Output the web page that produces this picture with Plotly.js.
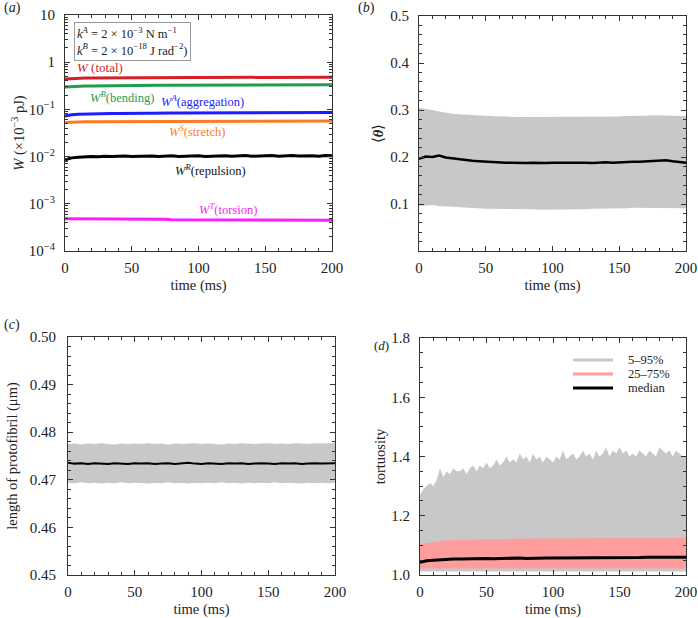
<!DOCTYPE html>
<html>
<head>
<meta charset="utf-8">
<script src="https://cdn.plot.ly/plotly-3.0.1.min.js"></script>
<style>
  html, body { margin: 0; padding: 0; background: #fff; }
  #chart { width: 698px; height: 618px; }
</style>
</head>
<body>
<div id="chart"></div>
<script>
// time axis (ms), every 5 ms
const timeMs = [
  0, 5, 10, 15, 20, 25, 30, 35, 40, 45,
  50, 55, 60, 65, 70, 75, 80, 85, 90, 95,
  100, 105, 110, 115, 120, 125, 130, 135, 140, 145,
  150, 155, 160, 165, 170, 175, 180, 185, 190, 195,
  200,
];
// finer time axis for the spiky upper band of (d)
const timeFine = [
  0, 2.5, 5, 7.5, 10, 12.5, 15, 17.5, 20, 22.5,
  25, 27.5, 30, 32.5, 35, 37.5, 40, 42.5, 45, 47.5,
  50, 52.5, 55, 57.5, 60, 62.5, 65, 67.5, 70, 72.5,
  75, 77.5, 80, 82.5, 85, 87.5, 90, 92.5, 95, 97.5,
  100, 102.5, 105, 107.5, 110, 112.5, 115, 117.5, 120, 122.5,
  125, 127.5, 130, 132.5, 135, 137.5, 140, 142.5, 145, 147.5,
  150, 152.5, 155, 157.5, 160, 162.5, 165, 167.5, 170, 172.5,
  175, 177.5, 180, 182.5, 185, 187.5, 190, 192.5, 195, 197.5,
  200,
];

// (a) energies, x10^-3 pJ
const wTotal = [
  0.44, 0.452, 0.458, 0.461, 0.463, 0.465, 0.466, 0.467, 0.468, 0.468,
  0.469, 0.47, 0.47, 0.471, 0.471, 0.472, 0.472, 0.473, 0.473, 0.474,
  0.474, 0.474, 0.475, 0.475, 0.476, 0.476, 0.476, 0.477, 0.477, 0.477,
  0.478, 0.478, 0.478, 0.479, 0.479, 0.479, 0.48, 0.48, 0.48, 0.481,
  0.481,
];
const wBending = [
  0.298, 0.306, 0.31, 0.313, 0.315, 0.317, 0.318, 0.319, 0.32, 0.321,
  0.322, 0.322, 0.323, 0.324, 0.324, 0.325, 0.325, 0.326, 0.326, 0.327,
  0.327, 0.328, 0.328, 0.328, 0.329, 0.329, 0.33, 0.33, 0.33, 0.331,
  0.331, 0.331, 0.332, 0.332, 0.332, 0.333, 0.333, 0.333, 0.334, 0.334,
  0.334,
];
const wAggregation = [
  0.072, 0.077, 0.079, 0.08, 0.081, 0.081, 0.082, 0.082, 0.082, 0.083,
  0.083, 0.083, 0.083, 0.083, 0.084, 0.084, 0.084, 0.084, 0.084, 0.084,
  0.084, 0.084, 0.085, 0.085, 0.085, 0.085, 0.085, 0.085, 0.085, 0.085,
  0.085, 0.085, 0.085, 0.086, 0.086, 0.086, 0.086, 0.086, 0.086, 0.086,
  0.086,
];
const wStretch = [
  0.053, 0.054, 0.055, 0.055, 0.055, 0.055, 0.056, 0.056, 0.056, 0.056,
  0.056, 0.056, 0.056, 0.056, 0.056, 0.056, 0.056, 0.057, 0.057, 0.057,
  0.057, 0.057, 0.057, 0.057, 0.057, 0.057, 0.057, 0.057, 0.057, 0.057,
  0.057, 0.057, 0.057, 0.057, 0.057, 0.057, 0.057, 0.057, 0.057, 0.057,
  0.057,
];
const wRepulsion = [
  0.0086, 0.0094, 0.0097, 0.0099, 0.0101, 0.0099, 0.0102, 0.01, 0.0101, 0.0103,
  0.01, 0.0102, 0.0101, 0.0103, 0.01, 0.0102, 0.0104, 0.0101, 0.0103, 0.0102,
  0.0104, 0.0101, 0.0103, 0.0102, 0.0104, 0.0102, 0.0103, 0.0105, 0.0102, 0.0104,
  0.0103, 0.0105, 0.0102, 0.0104, 0.0106, 0.0103, 0.0105, 0.0104, 0.0102, 0.0105,
  0.0104,
];
const wTorsion = [
  0.00048, 0.00048, 0.00048, 0.00047, 0.00047, 0.00047, 0.00047, 0.00047, 0.00047, 0.00047,
  0.00047, 0.00047, 0.00047, 0.00047, 0.00047, 0.00047, 0.00046, 0.00046, 0.00046, 0.00046,
  0.00046, 0.00046, 0.00046, 0.00046, 0.00046, 0.00046, 0.00046, 0.00046, 0.00046, 0.00046,
  0.00046, 0.00046, 0.00046, 0.00045, 0.00045, 0.00045, 0.00045, 0.00045, 0.00045, 0.00045,
  0.00045,
];

// (b) mean angle: band and median
const thetaUpper = [
  0.305, 0.303, 0.3, 0.297, 0.294, 0.292, 0.291, 0.29, 0.289, 0.288,
  0.287, 0.287, 0.286, 0.286, 0.285, 0.285, 0.285, 0.285, 0.286, 0.285,
  0.285, 0.285, 0.286, 0.285, 0.285, 0.286, 0.285, 0.286, 0.286, 0.286,
  0.286, 0.287, 0.287, 0.288, 0.288, 0.289, 0.289, 0.288, 0.288, 0.287,
  0.287,
];
const thetaLower = [
  0.096, 0.097, 0.098, 0.096, 0.095, 0.094, 0.093, 0.092, 0.091, 0.091,
  0.09, 0.09, 0.09, 0.089, 0.089, 0.089, 0.089, 0.089, 0.088, 0.088,
  0.088, 0.088, 0.089, 0.089, 0.089, 0.089, 0.09, 0.09, 0.09, 0.091,
  0.091, 0.091, 0.092, 0.092, 0.092, 0.092, 0.092, 0.092, 0.091, 0.091,
  0.091,
];
const thetaMedian = [
  0.196, 0.201, 0.2, 0.203, 0.199, 0.197, 0.195, 0.194, 0.192, 0.191,
  0.19, 0.19, 0.189, 0.188, 0.188, 0.187, 0.187, 0.188, 0.187, 0.187,
  0.188, 0.188, 0.189, 0.188, 0.189, 0.188, 0.187, 0.188, 0.189, 0.188,
  0.189, 0.189, 0.19, 0.19, 0.191, 0.192, 0.192, 0.193, 0.191, 0.189,
  0.188,
];

// (c) protofibril length (um)
const lenUpper = [
  0.4775, 0.4776, 0.4774, 0.4776, 0.4775, 0.4777, 0.4775, 0.4774, 0.4776, 0.4775,
  0.4776, 0.4775, 0.4777, 0.4775, 0.4776, 0.4774, 0.4776, 0.4775, 0.4776, 0.4777,
  0.4775, 0.4776, 0.4775, 0.4774, 0.4776, 0.4775, 0.4777, 0.4776, 0.4775, 0.4776,
  0.4777, 0.4775, 0.4776, 0.4775, 0.4777, 0.4776, 0.4775, 0.4777, 0.4776, 0.4777,
  0.4778,
];
const lenLower = [
  0.4694, 0.4693, 0.4695, 0.4693, 0.4694, 0.4692, 0.4694, 0.4693, 0.4695, 0.4693,
  0.4694, 0.4693, 0.4692, 0.4694, 0.4693, 0.4695, 0.4693, 0.4694, 0.4692, 0.4694,
  0.4693, 0.4694, 0.4693, 0.4695, 0.4693, 0.4694, 0.4692, 0.4694, 0.4693, 0.4694,
  0.4693, 0.4695, 0.4693, 0.4694, 0.4693, 0.4692, 0.4694, 0.4693, 0.4694, 0.4693,
  0.4694,
];
const lenMedian = [
  0.4736, 0.4734, 0.4735, 0.4733, 0.4735, 0.4734, 0.4733, 0.4735, 0.4734, 0.4733,
  0.4735, 0.4734, 0.4735, 0.4733, 0.4734, 0.4735, 0.4733, 0.4734, 0.4736, 0.4734,
  0.4733, 0.4735, 0.4734, 0.4733, 0.4735, 0.4734, 0.4735, 0.4733, 0.4734, 0.4735,
  0.4734, 0.4733, 0.4735, 0.4734, 0.4735, 0.4733, 0.4734, 0.4735, 0.4734, 0.4735,
  0.4735,
];

// (d) tortuosity percentiles
const tort95 = [
  1.27, 1.29, 1.3, 1.31, 1.3, 1.32, 1.36, 1.33, 1.35, 1.34,
  1.36, 1.35, 1.35, 1.36, 1.34, 1.36, 1.37, 1.35, 1.37, 1.36,
  1.38, 1.36, 1.37, 1.39, 1.37, 1.38, 1.4, 1.38, 1.39, 1.38,
  1.41, 1.39, 1.4, 1.38, 1.41, 1.39, 1.4, 1.38, 1.4, 1.39,
  1.38, 1.4, 1.39, 1.42, 1.39, 1.4, 1.41, 1.39, 1.4, 1.42,
  1.4, 1.41, 1.39, 1.42, 1.4, 1.41, 1.43, 1.4, 1.42, 1.41,
  1.43, 1.41, 1.42, 1.4, 1.41, 1.4, 1.42, 1.41, 1.4, 1.42,
  1.41, 1.4, 1.43, 1.42, 1.41, 1.42, 1.4, 1.42, 1.41, 1.4,
  1.4,
];
const tort5 = [
  1.012, 1.012, 1.012, 1.012, 1.012, 1.012, 1.012, 1.012, 1.012, 1.012,
  1.012, 1.012, 1.012, 1.012, 1.012, 1.012, 1.012, 1.012, 1.012, 1.012,
  1.012, 1.012, 1.012, 1.012, 1.012, 1.012, 1.012, 1.012, 1.012, 1.012,
  1.012, 1.012, 1.012, 1.012, 1.012, 1.012, 1.012, 1.012, 1.012, 1.012,
  1.012,
];
const tort75 = [
  1.104, 1.108, 1.112, 1.115, 1.117, 1.118, 1.119, 1.12, 1.12, 1.121,
  1.121, 1.121, 1.122, 1.122, 1.122, 1.122, 1.123, 1.122, 1.123, 1.123,
  1.123, 1.123, 1.123, 1.124, 1.123, 1.124, 1.124, 1.124, 1.124, 1.124,
  1.124, 1.124, 1.125, 1.124, 1.125, 1.125, 1.125, 1.125, 1.125, 1.125,
  1.125,
];
const tort25 = [
  1.022, 1.022, 1.022, 1.022, 1.022, 1.022, 1.022, 1.022, 1.022, 1.022,
  1.022, 1.022, 1.022, 1.022, 1.022, 1.022, 1.022, 1.022, 1.022, 1.022,
  1.022, 1.022, 1.022, 1.022, 1.022, 1.022, 1.022, 1.022, 1.022, 1.022,
  1.022, 1.022, 1.022, 1.022, 1.022, 1.022, 1.022, 1.022, 1.022, 1.022,
  1.022,
];
const tortMedian = [
  1.043, 1.048, 1.05, 1.052, 1.053, 1.054, 1.054, 1.055, 1.055, 1.055,
  1.056, 1.055, 1.056, 1.056, 1.056, 1.057, 1.056, 1.057, 1.057, 1.057,
  1.057, 1.057, 1.058, 1.057, 1.058, 1.058, 1.058, 1.058, 1.059, 1.058,
  1.059, 1.059, 1.059, 1.059, 1.06, 1.059, 1.06, 1.06, 1.06, 1.06,
  1.06,
];

const logTicks = [1e-4, 1e-3, 1e-2, 1e-1, 1, 10];
const logTickText = ["10<sup>−4</sup>", "10<sup>−3</sup>", "10<sup>−2</sup>", "10<sup>−1</sup>", "1", "10"];
const legendNames = ["5–95%", "25–75%", "median"];

const serif = "'Liberation Serif', 'Times New Roman', serif";
const ink = "#222";
const axisInk = "#333";
const bandGray = "#c8c8c8";
const bandPink = "#ff9c9c";
const legendColors = [bandGray, bandPink, "#000"];

const W = 698, H = 618;
const px = (x) => x / W;
const py = (y) => 1 - y / H;

function axis(extra) {
  return {
    showline: true,
    linecolor: axisInk,
    linewidth: 1,
    mirror: "ticks",
    ticks: "inside",
    ticklen: 5,
    tickcolor: axisInk,
    showgrid: false,
    zeroline: false,
    fixedrange: true,
    tickfont: { family: serif, size: 15, color: ink },
    ...extra,
  };
}

const minorTicks = (extra) => ({ ticks: "inside", ticklen: 3, tickcolor: axisInk, ...extra });
const yTitle = (text, standoff) => ({ text, standoff, font: { family: serif, size: 14.5, color: ink } });

function timeAxis(domain, anchor) {
  return axis({
    domain,
    anchor,
    range: [0, 200],
    tick0: 0,
    dtick: 50,
    ticklabelstandoff: 3,
    minor: minorTicks({ dtick: 10, tick0: 0 }),
    title: { text: "time (ms)", standoff: 4, font: { family: serif, size: 14.5, color: ink } },
  });
}

const line = (x, y, xa, ya, color, width) => ({
  x, y, xaxis: xa, yaxis: ya, type: "scatter", mode: "lines",
  line: { color, width }, showlegend: false, hoverinfo: "skip",
});

const band = (x, y, xa, ya, color, fill) => ({
  x, y, xaxis: xa, yaxis: ya, type: "scatter", mode: "lines",
  line: { width: 0, color }, fill, fillcolor: color,
  showlegend: false, hoverinfo: "skip",
});

const traces = [
  // (a)
  line(timeMs, wTotal, "x", "y", "#d41f26", 3),
  line(timeMs, wBending, "x", "y", "#1f9e50", 3),
  line(timeMs, wAggregation, "x", "y", "#1c1cff", 3),
  line(timeMs, wStretch, "x", "y", "#ff7b22", 3),
  line(timeMs, wRepulsion, "x", "y", "#000000", 3),
  line(timeMs, wTorsion, "x", "y", "#ff1cff", 3),
  // (b)
  band(timeMs, thetaLower, "x2", "y2", bandGray, "none"),
  band(timeMs, thetaUpper, "x2", "y2", bandGray, "tonexty"),
  line(timeMs, thetaMedian, "x2", "y2", "#000", 2.5),
  // (c)
  band(timeMs, lenLower, "x3", "y3", bandGray, "none"),
  band(timeMs, lenUpper, "x3", "y3", bandGray, "tonexty"),
  line(timeMs, lenMedian, "x3", "y3", "#000", 2),
  // (d)
  band(timeMs, tort5, "x4", "y4", bandGray, "none"),
  band(timeFine, tort95, "x4", "y4", bandGray, "tonexty"),
  band(timeMs, tort25, "x4", "y4", bandPink, "none"),
  band(timeMs, tort75, "x4", "y4", bandPink, "tonexty"),
  line(timeMs, tortMedian, "x4", "y4", "#000", 3),
];

const txt = (text, x, y, color, size, anchor) => ({
  text, xref: "paper", yref: "paper", x: px(x), y: py(y),
  xanchor: anchor || "center", yanchor: "middle", showarrow: false,
  font: { family: serif, size: size || 12.5, color: color || ink },
});

const annotations = [
  txt("(<i>a</i>)", 2, 8, ink, 14, "left"),
  txt("(<i>b</i>)", 356, 8, ink, 14, "left"),
  txt("(<i>c</i>)", 2, 325, ink, 14, "left"),
  txt("(<i>d</i>)", 372, 345, ink, 13, "left"),
  txt("<i>W</i> (total)", 100, 67, "#d41f26", 13),
  txt("<i>W</i><sup><i>B</i></sup>(bending)", 122, 97, "#1f9e50"),
  txt("<i>W</i><sup><i>A</i></sup>(aggregation)", 203, 101, "#1c1cff"),
  txt("<i>W</i><sup><i>S</i></sup>(stretch)", 197, 131, "#ff7b22"),
  txt("<i>W</i><sup><i>R</i></sup>(repulsion)", 210, 170, "#111"),
  txt("<i>W</i><sup><i>T</i></sup>(torsion)", 228, 209, "#ff1cff"),
  {
    ...txt("<i>k</i><sup><i>A</i></sup> = 2 × 10<sup>−3</sup> N m<sup>−1</sup><br>" +
      "<i>k</i><sup><i>B</i></sup> = 2 × 10<sup>−18</sup> J rad<sup>−2</sup>)", 74, 41, ink, 12.5, "left"),
    align: "left", bordercolor: "#999", borderwidth: 1, borderpad: 2, bgcolor: "#fff",
  },
];

// legend of (d): swatch + label per entry
const legendRows = [360, 374, 388];
const shapes = [];
legendNames.forEach((name, i) => {
  shapes.push({
    type: "line", xref: "paper", yref: "paper",
    x0: px(573), x1: px(613), y0: py(legendRows[i]), y1: py(legendRows[i]),
    line: { color: legendColors[i], width: 3 },
  });
  annotations.push(txt(name, 626, legendRows[i], ink, 12.5, "left"));
});

const layout = {
  width: W,
  height: H,
  margin: { l: 0, r: 0, t: 0, b: 0 },
  paper_bgcolor: "#fff",
  plot_bgcolor: "rgba(0,0,0,0)",
  font: { family: serif, size: 14, color: ink },
  showlegend: false,
  xaxis: timeAxis([px(65), px(332)], "y"),
  yaxis: axis({
    domain: [py(251), py(15)],
    anchor: "x",
    type: "log",
    range: [-4, 1],
    tickvals: logTicks,
    ticktext: logTickText,
    ticklabelstandoff: 6,
    minor: minorTicks({ dtick: "D1" }),
    title: yTitle("<i>W</i> (×10<sup>−3</sup> pJ)", 0),
  }),
  xaxis2: timeAxis([px(419), px(686)], "y2"),
  yaxis2: axis({
    domain: [py(251), py(16)],
    anchor: "x2",
    range: [0, 0.5],
    tickvals: [0.1, 0.2, 0.3, 0.4, 0.5],
    ticklabelstandoff: 6,
    minor: minorTicks({ tickmode: "linear", tick0: 0, dtick: 0.02 }),
    title: yTitle("⟨<i><b>θ</b></i>⟩", 3),
  }),
  xaxis3: timeAxis([px(68), px(335)], "y3"),
  yaxis3: axis({
    domain: [py(575), py(337)],
    anchor: "x3",
    range: [0.45, 0.5],
    tick0: 0.45,
    dtick: 0.01,
    tickformat: ".2f",
    ticklabelstandoff: 8,
    minor: minorTicks({ tick0: 0.45, dtick: 0.002 }),
    title: yTitle("length of protofibril (μm)", 8),
  }),
  xaxis4: timeAxis([px(420), px(686)], "y4"),
  yaxis4: axis({
    domain: [py(575), py(338)],
    anchor: "x4",
    range: [1.0, 1.8],
    tick0: 1.0,
    dtick: 0.2,
    tickformat: ".1f",
    ticklabelstandoff: 6,
    minor: minorTicks({ tick0: 1.0, dtick: 0.05 }),
    title: yTitle("tortuosity", 2),
  }),
  shapes,
  annotations,
};

Plotly.newPlot("chart", traces, layout, { staticPlot: true });
</script>
</body>
</html>
